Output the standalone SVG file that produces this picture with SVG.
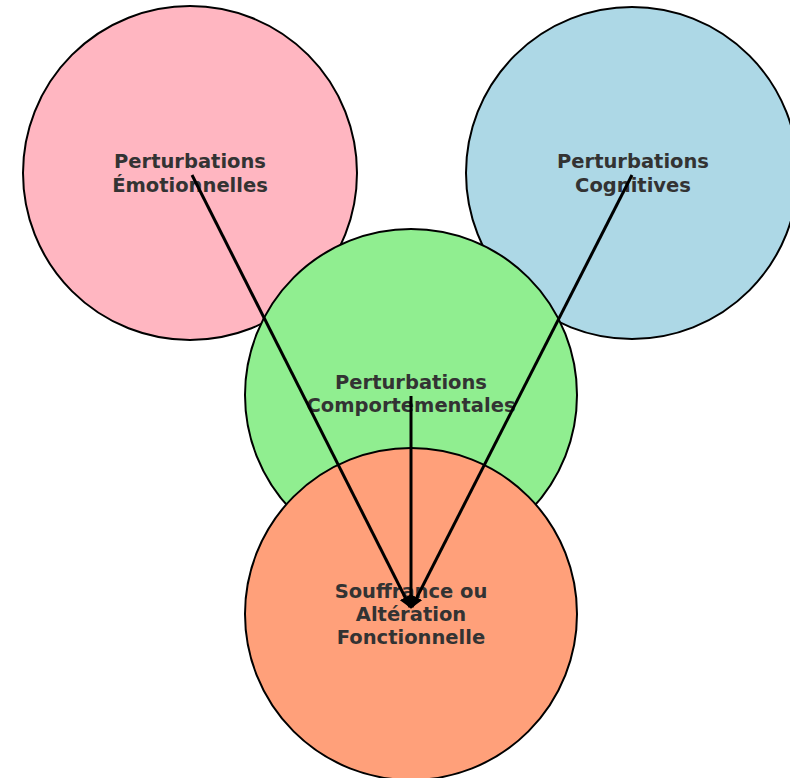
<svg xmlns="http://www.w3.org/2000/svg" width="790" height="778" viewBox="0 0 790 778">
<style>
.c{stroke:#000;stroke-width:2}
.t{font-family:"DejaVu Sans",sans-serif;font-weight:bold;font-size:19.5px;fill:#333;text-anchor:middle}
.e{stroke:#000;stroke-width:3;fill:none;marker-end:url(#ah)}
</style>
<defs>
<marker id="ah" viewBox="0 0 10 10" refX="9" refY="5" markerWidth="4" markerHeight="4" orient="auto" markerUnits="strokeWidth">
<path d="M0,0 L10,5 L0,10 z" fill="#000"/>
</marker>
</defs>
<rect width="790" height="778" fill="#fff"/>
<g id="emotion"><circle class="c" cx="190" cy="173" r="167" fill="#FFB6C1"/></g>
<g id="cognitive"><circle class="c" cx="632" cy="173" r="166" fill="#ADD8E6"/></g>
<g id="behavior"><circle class="c" cx="411" cy="395" r="166" fill="#90EE90"/></g>
<g id="suffering"><circle class="c" cx="411" cy="614" r="166" fill="#FFA07A"/></g>
<g id="labels">
<text class="t" x="190" y="168">Perturbations</text>
<text class="t" x="190" y="192">Émotionnelles</text>
<text class="t" x="633" y="168">Perturbations</text>
<text class="t" x="633" y="192">Cognitives</text>
<text class="t" x="411" y="389">Perturbations</text>
<text class="t" x="411" y="412">Comportementales</text>
<text class="t" x="411" y="598">Souffrance ou</text>
<text class="t" x="411" y="621">Altération</text>
<text class="t" x="411" y="644">Fonctionnelle</text>
</g>
<g id="connectors">
<line class="e" x1="192" y1="175" x2="410" y2="607"/>
<line class="e" x1="632" y1="175" x2="412" y2="607"/>
<line class="e" x1="411" y1="396" x2="411" y2="608"/>
</g>
</svg>
